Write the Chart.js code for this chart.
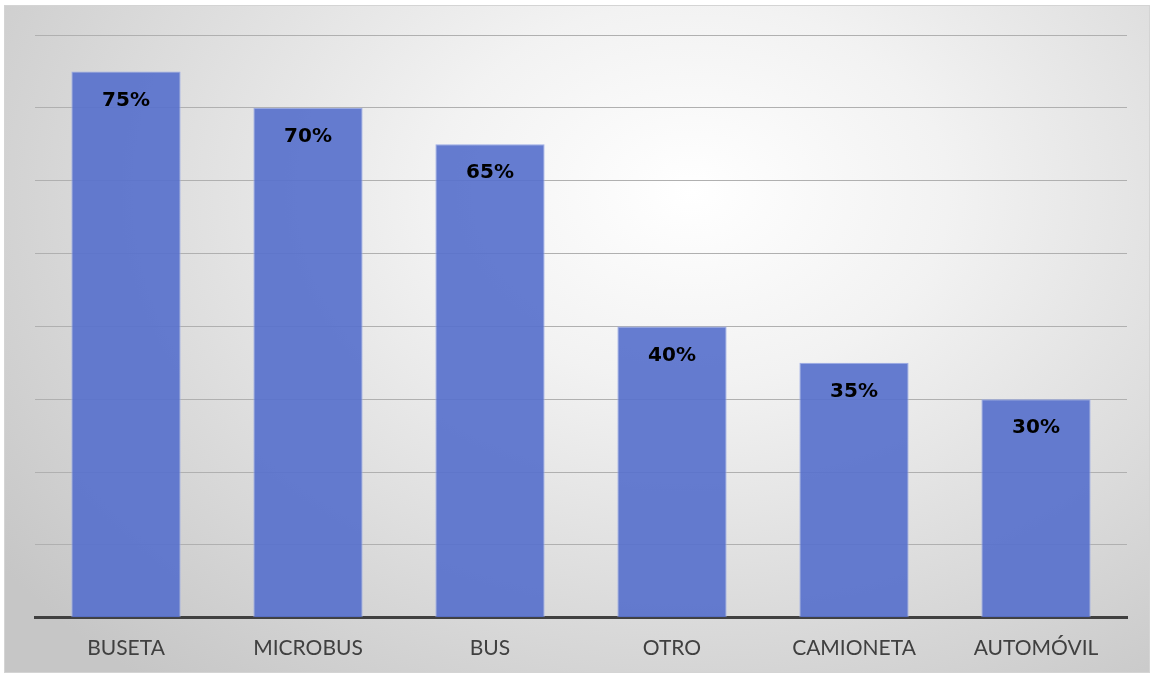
<!DOCTYPE html>
<html>
<head>
<meta charset="utf-8">
<script src="https://cdn.jsdelivr.net/npm/chart.js@4.4.1/dist/chart.umd.min.js"></script>
<style>
  html, body { margin: 0; padding: 0; background: #ffffff; }
  #frame {
    position: absolute; left: 4px; top: 5px; width: 1144px; height: 666px;
    border: 1px solid #d4d4d4;
    background: radial-gradient(ellipse 75% 95% at 60% 28%, #ffffff 0%, #f2f2f2 30%, #dcdcdc 65%, #c6c6c6 100%);
  }
  #wrap { position: absolute; left: 0; top: 0; width: 1154px; height: 675px; }
</style>
</head>
<body>
<div id="frame"></div>
<div id="wrap"><canvas id="barChart" width="1154" height="675"></canvas></div>
<script>
// Data
const categories = ['BUSETA', 'MICROBUS', 'BUS', 'OTRO', 'CAMIONETA', 'AUTOMÓVIL'];
const values = [0.75, 0.70, 0.65, 0.40, 0.35, 0.30];

// label porcentaje di dalam bar
const valueLabels = {
  id: 'valueLabels',
  afterDatasetsDraw(chart) {
    const ctx = chart.ctx;
    const meta = chart.getDatasetMeta(0);
    ctx.save();
    ctx.font = 'bold 20px "DejaVu Sans"';
    ctx.fillStyle = '#000000';
    ctx.textAlign = 'center';
    ctx.textBaseline = 'middle';
    meta.data.forEach((bar, i) => {
      const txt = Math.round(values[i] * 100) + '%';
      ctx.fillText(txt, bar.x, bar.y + 29);
    });
    ctx.restore();
  }
};

const ctx = document.getElementById('barChart').getContext('2d');
new Chart(ctx, {
  type: 'bar',
  data: {
    labels: categories,
    datasets: [{
      data: values,
      backgroundColor: 'rgba(88, 113, 204, 0.92)',
      borderColor: '#9aaae6',
      borderWidth: 1,
      barPercentage: 0.6,
      categoryPercentage: 1.0
    }]
  },
  options: {
    responsive: false,
    animation: false,
    layout: { padding: { left: 35, right: 27, top: 35, bottom: 4 } },
    plugins: {
      legend: { display: false },
      tooltip: { enabled: false }
    },
    scales: {
      x: {
        grid: { display: false },
        border: { display: true, color: '#404040', width: 3 },
        ticks: {
          color: '#404040',
          font: { family: 'Lato', size: 21 },
          padding: 10
        }
      },
      y: {
        min: 0,
        max: 0.8,
        ticks: { display: false, stepSize: 0.1 },
        grid: { color: '#b0b0b0', lineWidth: 1, drawTicks: false },
        border: { display: false }
      }
    }
  },
  plugins: [valueLabels]
});
</script>
</body>
</html>
